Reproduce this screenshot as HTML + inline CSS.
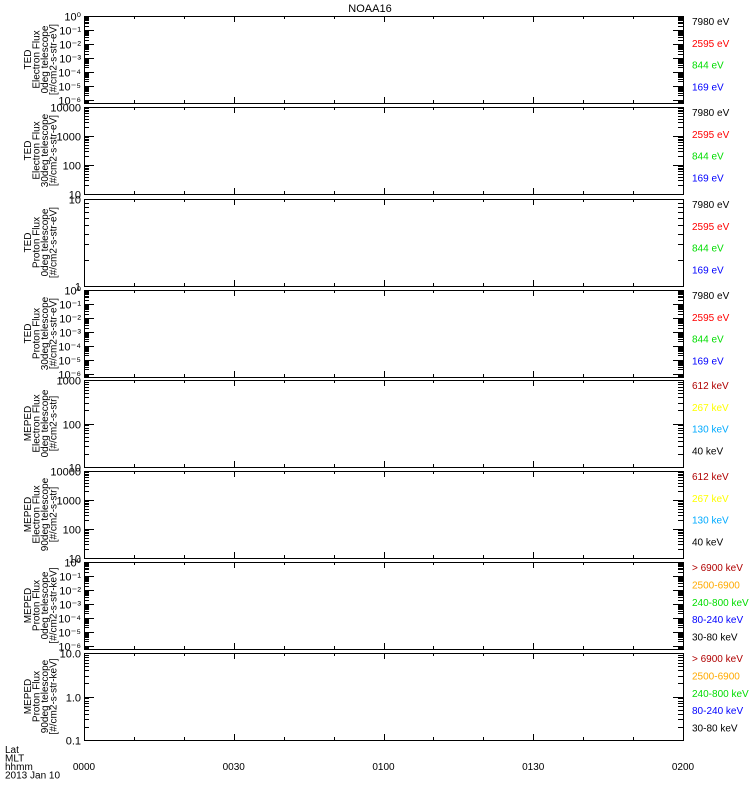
<!DOCTYPE html>
<html><head><meta charset="utf-8"><style>
body{margin:0;background:#fff;}
svg{display:block;font-family:"Liberation Sans",sans-serif;}
</style></head><body>
<svg id="s" width="750" height="800" xmlns="http://www.w3.org/2000/svg">
<rect width="750" height="800" fill="#fff"/>
<text x="370" y="12" font-size="11" text-anchor="middle">NOAA16</text>
</svg>
<script>
const s=document.getElementById('s');
const NS='http://www.w3.org/2000/svg';
function el(t,a,txt){const e=document.createElementNS(NS,t);for(const k in a)e.setAttribute(k,a[k]);if(txt!==undefined)e.textContent=txt;s.appendChild(e);return e;}
const X0=84,X1=683;
const panels=[
 {t:16,b:103,lo:-6.25,hi:0,lab:'exp',y:['TED','Electron Flux','0deg telescope','[#/cm2-s-str-eV]'],r:[['7980 eV','#000'],['2595 eV','#f00'],['844 eV','#0d0'],['169 eV','#00f']]},
 {t:107,b:194,lo:1,hi:4,lab:'num',y:['TED','Electron Flux','30deg telescope','[#/cm2-s-str-eV]'],r:[['7980 eV','#000'],['2595 eV','#f00'],['844 eV','#0d0'],['169 eV','#00f']]},
 {t:199,b:286,lo:0,hi:1,lab:'num',y:['TED','Proton Flux','0deg telescope','[#/cm2-s-str-eV]'],r:[['7980 eV','#000'],['2595 eV','#f00'],['844 eV','#0d0'],['169 eV','#00f']]},
 {t:290,b:377,lo:-6.25,hi:0,lab:'exp',y:['TED','Proton Flux','30deg telescope','[#/cm2-s-str-eV]'],r:[['7980 eV','#000'],['2595 eV','#f00'],['844 eV','#0d0'],['169 eV','#00f']]},
 {t:380,b:467,lo:1,hi:3,lab:'num',y:['MEPED','Electron Flux','0deg telescope','[#/cm2-s-str]'],r:[['612 keV','#b00000'],['267 keV','#ff0'],['130 keV','#00aaff'],['40 keV','#000']]},
 {t:471,b:558,lo:1,hi:4,lab:'num',y:['MEPED','Electron Flux','90deg telescope','[#/cm2-s-str]'],r:[['612 keV','#b00000'],['267 keV','#ff0'],['130 keV','#00aaff'],['40 keV','#000']]},
 {t:562,b:649,lo:-6.25,hi:0,lab:'exp',y:['MEPED','Proton Flux','0deg telescope','[#/cm2-s-str-keV]'],r:[['> 6900 keV','#b00000'],['2500-6900','#ffaa00'],['240-800 keV','#0d0'],['80-240 keV','#00f'],['30-80 keV','#000']]},
 {t:653,b:740,lo:-1,hi:1,lab:'dec',y:['MEPED','Proton Flux','90deg telescope','[#/cm2-s-str-keV]'],r:[['> 6900 keV','#b00000'],['2500-6900','#ffaa00'],['240-800 keV','#0d0'],['80-240 keV','#00f'],['30-80 keV','#000']]},
];
const sup={'0':'⁰','1':'¹','2':'²','3':'³','4':'⁴','5':'⁵','6':'⁶','-':'⁻'};
panels.forEach(p=>{
 el('rect',{x:X0+.5,y:p.t+.5,width:X1-X0,height:p.b-p.t,fill:'none',stroke:'#000','stroke-width':1});
 const Y=v=>p.b-(v-p.lo)/(p.hi-p.lo)*(p.b-p.t);
 let d='';
 for(let e=Math.floor(p.lo);e<=p.hi;e++){
  for(let m=1;m<10;m++){
   const v=e+Math.log10(m); if(v<p.lo-1e-6||v>p.hi+1e-6)continue;
   const y=Math.round(Y(v))+.5; const L=m==1?10:5;
   d+=`M${X0} ${y}h${L}M${X1} ${y}h${-L}`;
   if(m==1){
    let txt;
    if(p.lab=='exp'){txt='10'+String(e).split('').map(c=>sup[c]).join('');}
    else if(p.lab=='dec'){txt=Math.pow(10,e).toFixed(1);}
    else txt=String(Math.round(Math.pow(10,e)));
    el('text',{x:X0-3,y:y+4,'font-size':11,'text-anchor':'end'},txt);
   }
  }
 }
 for(let i=0;i<=12;i++){const x=Math.round(X0+i*(X1-X0)/12)+.5;const L=i%3==0?6:3;d+=`M${x} ${p.b}v${-L}M${x} ${p.t}v${L}`;}
 el('path',{d:d,stroke:'#000','stroke-width':1,fill:'none'});
 const cy=(p.t+p.b)/2;
 const g=el('g',{transform:`translate(0 ${cy}) rotate(-90)`,'font-size':10,'text-anchor':'middle'});
 p.y.forEach((l,i)=>{const t=document.createElementNS(NS,'text');t.setAttribute('x',0);t.setAttribute('y',31+i*8.5);t.textContent=l;g.appendChild(t);});
 const n=p.r.length, step=(p.b-p.t)/n;
 p.r.forEach((r,i)=>{el('text',{x:692,y:p.t+9+i*step,'font-size':10,fill:r[1]},r[0]);});
});
['0000','0030','0100','0130','0200'].forEach((t,i)=>el('text',{x:X0+i*(X1-X0)/4,y:770,'font-size':10,'text-anchor':'middle'},t));
['Lat','MLT','hhmm','2013 Jan 10'].forEach((t,i)=>el('text',{x:5,y:753+i*8.5,'font-size':10},t));
</script>
</body></html>
